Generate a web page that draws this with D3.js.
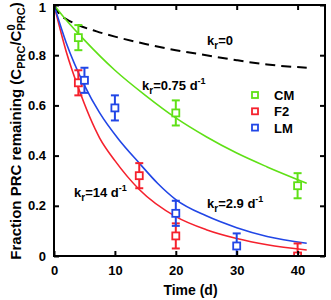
<!DOCTYPE html>
<html><head><meta charset="utf-8">
<script src="https://cdn.jsdelivr.net/npm/d3@7"></script>
<style>body{margin:0;background:#fff}svg{display:block}text{font-family:"Liberation Sans",Arial,sans-serif;font-weight:bold}</style>
</head><body><svg id="c" width="331" height="300"></svg>
<script>
// Data
const xTicks = [0, 10, 20, 30, 40];
const yTicks = [0, 0.2, 0.4, 0.6, 0.8, 1];
const yTickLabels = ["0", "0.2", "0.4", "0.6", "0.8", "1"];
const seriesNames = ["CM", "F2", "LM"];
const seriesColors = ["#5fe016", "#f5212d", "#2146e6"];
const cmT = [4, 20, 40], cmV = [0.87, 0.57, 0.28], cmE = [0.05, 0.05, 0.05];
const f2T = [4, 14, 20, 40], f2V = [0.69, 0.32, 0.08, 0.0], f2E = [0.05, 0.05, 0.05, 0.05];
const lmT = [5, 10, 20, 30], lmV = [0.70, 0.59, 0.17, 0.04], lmE = [0.05, 0.05, 0.05, 0.05];
// model curves
const k0T = [0, 1, 2, 4, 7, 10, 15, 20, 25, 30, 35, 41.5];
const k0V = [1, 0.96, 0.944, 0.92, 0.895, 0.874, 0.845, 0.82, 0.80, 0.78, 0.763, 0.75];
const cmCurveT = [0, 2, 5, 10, 15, 20, 25, 30, 35, 41.5];
const cmCurveV = [1, 0.94, 0.86, 0.74, 0.64, 0.55, 0.475, 0.41, 0.355, 0.29];
const f2CurveT = [0, 2, 4, 7.5, 10, 14, 20, 25, 30, 35, 41.5];
const f2CurveV = [1, 0.815, 0.67, 0.47, 0.38, 0.265, 0.157, 0.105, 0.07, 0.045, 0.024];
const lmCurveT = [0, 2, 5, 7.5, 10.6, 14, 17, 20, 25, 30, 35, 41.5];
const lmCurveV = [1, 0.85, 0.68, 0.57, 0.465, 0.37, 0.29, 0.225, 0.16, 0.113, 0.078, 0.051];

const svg = d3.select("#c");
const L = 54, R = 325, T = 5, B = 256;
const x = d3.scaleLinear().domain([0, 44.5]).range([L, R]);
const y = d3.scaleLinear().domain([0, 1]).range([B, T]);

svg.append("defs").append("clipPath").attr("id", "clip")
  .append("rect").attr("x", L).attr("y", T).attr("width", R - L).attr("height", B - T);
const plot = svg.append("g").attr("clip-path", "url(#clip)");

const line = d3.line().x(d => x(d[0])).y(d => y(d[1])).curve(d3.curveMonotoneX);
const zip = (a, b) => a.map((v, i) => [v, b[i]]);

plot.append("path").attr("d", line(zip(k0T, k0V))).attr("fill", "none")
  .attr("stroke", "#000").attr("stroke-width", 2).attr("stroke-dasharray", "10,6");
const curves = [[cmCurveT, cmCurveV], [f2CurveT, f2CurveV], [lmCurveT, lmCurveV]];
curves.forEach((c, i) => {
  plot.append("path").attr("d", line(zip(c[0], c[1]))).attr("fill", "none")
    .attr("stroke", seriesColors[i]).attr("stroke-width", 1.6);
});

const pts = [[cmT, cmV, cmE], [f2T, f2V, f2E], [lmT, lmV, lmE]];
pts.forEach((s, i) => {
  const col = seriesColors[i];
  const g = plot.append("g");
  s[0].forEach((t, j) => {
    const cx = x(t), v = s[1][j], e = s[2][j];
    g.append("line").attr("x1", cx).attr("x2", cx).attr("y1", y(v - e)).attr("y2", y(v + e))
      .attr("stroke", col).attr("stroke-width", 2);
    [v - e, v + e].forEach(w => g.append("line").attr("x1", cx - 4).attr("x2", cx + 4)
      .attr("y1", y(w)).attr("y2", y(w)).attr("stroke", col).attr("stroke-width", 2));
    g.append("rect").attr("x", cx - 3.5).attr("y", y(v) - 3.5).attr("width", 7).attr("height", 7)
      .attr("fill", "#fff").attr("stroke", col).attr("stroke-width", 1.8);
  });
});

// frame and axes
const ax = svg.append("g");
ax.append("g").attr("transform", `translate(0,${B})`)
  .call(d3.axisBottom(x).tickValues(xTicks).tickSize(-5).tickPadding(10).tickFormat(d3.format("d")));
ax.append("g").attr("transform", `translate(0,${T})`)
  .call(d3.axisTop(x).tickValues(xTicks).tickSize(-5).tickFormat(""));
ax.append("g").attr("transform", `translate(${L},0)`)
  .call(d3.axisLeft(y).tickValues(yTicks).tickSize(-5).tickPadding(8).tickFormat((d, i) => yTickLabels[i]));
ax.append("g").attr("transform", `translate(${R},0)`)
  .call(d3.axisRight(y).tickValues(yTicks).tickSize(-5).tickFormat(""));
ax.selectAll(".domain").remove();
ax.selectAll(".tick line").attr("stroke", "#000").attr("stroke-width", 2);
ax.selectAll(".tick text").attr("font-size", 13).attr("font-weight", "bold").attr("fill", "#000")
  .attr("font-family", "Liberation Sans, Arial, sans-serif");
ax.selectAll(".tick text").filter(d => d === 1).attr("dy", "0.5em");
svg.append("rect").attr("x", L).attr("y", T).attr("width", R - L).attr("height", B - T)
  .attr("fill", "none").attr("stroke", "#000").attr("stroke-width", 2);

// annotations
function klabel(px, py, rest, sup) {
  const t = svg.append("text").attr("x", px).attr("y", py).attr("font-size", 13).attr("fill", "#000");
  t.append("tspan").text("k");
  t.append("tspan").attr("font-size", 10).attr("dy", 4).text("r");
  t.append("tspan").attr("dy", -4).text(rest);
  if (sup) t.append("tspan").attr("font-size", 9).attr("dy", -6).text(sup);
}
klabel(207, 45, "=0", null);
klabel(142, 90, "=0.75 d", "-1");
klabel(74, 197, "=14 d", "-1");
klabel(207, 208, "=2.9 d", "-1");

// legend
seriesNames.forEach((n, i) => {
  const ly = 95 + i * 16.3;
  svg.append("rect").attr("x", 252).attr("y", ly - 3).attr("width", 6).attr("height", 6)
    .attr("fill", "#fff").attr("stroke", seriesColors[i]).attr("stroke-width", 1.8);
  svg.append("text").attr("x", 274).attr("y", ly + 5).attr("font-size", 13).attr("fill", "#000").text(n);
});

// axis titles
svg.append("text").attr("x", (L + R) / 2 + 1).attr("y", 295).attr("text-anchor", "middle")
  .attr("font-size", 14).attr("fill", "#000").text("Time (d)");
const yl = svg.append("text").attr("transform", "translate(21,131) rotate(-90)")
  .attr("text-anchor", "middle").attr("font-size", 15).attr("fill", "#000");
yl.append("tspan").text("Fraction PRC remaining (C");
yl.append("tspan").attr("font-size", 11).attr("dy", 4).text("PRC");
yl.append("tspan").attr("dy", -4).text("/C");
yl.append("tspan").attr("font-size", 11).attr("dy", -6).text("0");
yl.append("tspan").attr("font-size", 11).attr("dx", -6.1).attr("dy", 10).text("PRC");
yl.append("tspan").attr("dy", -4).text(")");
</script></body></html>
